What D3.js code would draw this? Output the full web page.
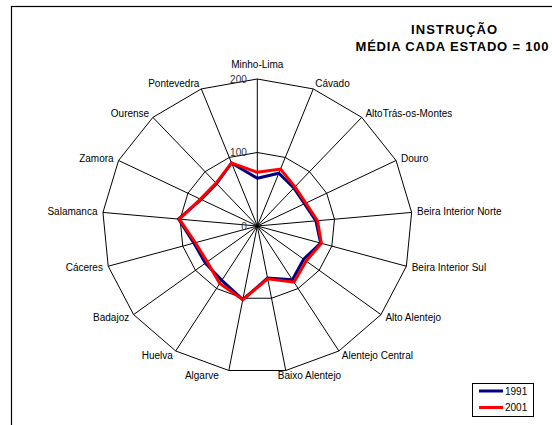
<!DOCTYPE html>
<html><head><meta charset="utf-8">
<script src="https://cdn.jsdelivr.net/npm/d3@7"></script>
<style>html,body{margin:0;padding:0;background:#fff;}svg{display:block;font-family:"Liberation Sans",Arial,sans-serif;}</style>
</head><body>
<svg id="chart" width="552" height="425"></svg>
<script>
const categories = ["Minho-Lima","Cávado","AltoTrás-os-Montes","Douro","Beira Interior Norte","Beira Interior Sul","Alto Alentejo","Alentejo Central","Baixo Alentejo","Algarve","Huelva","Badajoz","Cáceres","Salamanca","Zamora","Ourense","Pontevedra"];
const values1991 = [65,77,70,68,76,85,75,86,72,102,87,84,85,102,81,78,92];
const values2001 = [73,83,72,70,78,86,79,90,73,102,92,81,83,101,82,79,92];
const seriesNames = ["1991","2001"];
const seriesColors = ["#000080","#FF0000"];
const tickValues = [0,100,200];
const titleLines = ["INSTRUÇÃO","MÉDIA CADA ESTADO = 100"];

const svg = d3.select("#chart");
const cx = 257.3, cy = 226;
const rx = d3.scaleLinear().domain([0,200]).range([0,155]);
const ry = d3.scaleLinear().domain([0,200]).range([0,147]);
const ang = d3.scaleLinear().domain([0,categories.length]).range([0,2*Math.PI]);
const pt = (i,v) => [cx + rx(v)*Math.sin(ang(i)), cy - ry(v)*Math.cos(ang(i))];

// frame
svg.append("rect").attr("x",11.5).attr("y",6.5).attr("width",700).attr("height",600)
  .attr("fill","none").attr("stroke","#000").attr("stroke-width",1.2);

const g = svg.append("g");
// rings
tickValues.filter(t=>t>0).forEach(t=>{
  g.append("path").attr("d", d3.line()(categories.map((c,i)=>pt(i,t))) + "Z")
    .attr("fill","none").attr("stroke","#000").attr("stroke-width",1);
});
// spokes
categories.forEach((c,i)=>{
  const p = pt(i,200);
  g.append("line").attr("x1",cx).attr("y1",cy).attr("x2",p[0]).attr("y2",p[1])
    .attr("stroke","#000").attr("stroke-width",1);
});
// tick labels
tickValues.forEach(t=>{
  g.append("text").attr("x",cx-10.5).attr("y",cy-ry(t)+3.8)
    .attr("text-anchor","end").attr("font-size","10px").attr("fill","#333").text(t);
});
// category labels
categories.forEach((c,i)=>{
  const a = ang(i), sx = Math.sin(a), cyy = -Math.cos(a);
  const v = pt(i,200);
  let x = v[0] + sx*5.5, y = v[1] + cyy*5.5, anchor;
  if (Math.abs(sx) < 0.1) { anchor = "middle"; y = v[1] - 15; }
  else {
    anchor = sx > 0 ? "start" : "end";
    if (cyy > 0 && Math.abs(sx) < 0.3) x -= 9;
  }
  g.append("text").attr("x",x).attr("y",y).attr("dy","0.35em")
    .attr("text-anchor",anchor).attr("font-size","10px").attr("fill","#000").text(c);
});
// series
[values1991, values2001].forEach((vals,k)=>{
  g.append("path").attr("d", d3.line()(vals.map((v,i)=>pt(i,v))) + "Z")
    .attr("fill","none").attr("stroke",seriesColors[k]).attr("stroke-width",3)
    .attr("stroke-linejoin","miter");
});
// title
svg.append("text").attr("x",454).attr("y",33.5).attr("text-anchor","middle")
  .attr("font-size","13px").attr("font-weight","bold")
  .attr("textLength",86).attr("lengthAdjust","spacing").text(titleLines[0]);
svg.append("text").attr("x",452).attr("y",51).attr("text-anchor","middle")
  .attr("font-size","13px").attr("font-weight","bold")
  .attr("textLength",193).attr("lengthAdjust","spacing").text(titleLines[1]);
// legend
const lg = svg.append("g");
lg.append("rect").attr("x",472.5).attr("y",383.5).attr("width",61).attr("height",33)
  .attr("fill","#fff").attr("stroke","#000").attr("stroke-width",1);
seriesNames.forEach((s,k)=>{
  const yy = 391 + k*16.5;
  lg.append("line").attr("x1",479).attr("x2",503).attr("y1",yy).attr("y2",yy)
    .attr("stroke",seriesColors[k]).attr("stroke-width",3);
  lg.append("text").attr("x",505).attr("y",yy).attr("dy","0.35em")
    .attr("font-size","10px").text(s);
});
</script>
</body></html>
